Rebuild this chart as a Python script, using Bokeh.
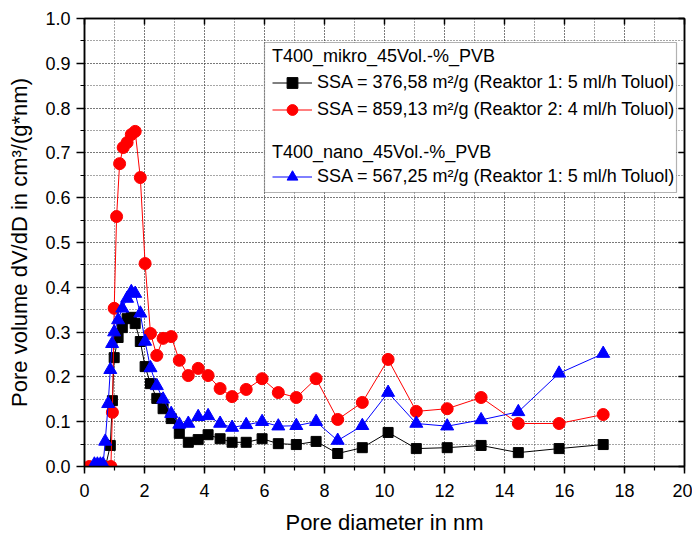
from bokeh.plotting import figure
from bokeh.models import (Range1d, LinearAxis, Legend, LegendItem, BoxAnnotation,
                          SingleIntervalTicker, CustomJSTickFormatter, PrintfTickFormatter)
from bokeh.embed import file_html
from bokeh.resources import INLINE

# ---- data ----
black_x = [0.3, 0.5, 0.7, 0.86, 0.93, 0.99, 1.12, 1.26, 1.42, 1.56, 1.69, 1.86, 2.02,
           2.2, 2.41, 2.62, 2.89, 3.16, 3.46, 3.79, 4.12, 4.52, 4.92, 5.39, 5.92, 6.46,
           7.06, 7.72, 8.44, 9.26, 10.12, 11.06, 12.09, 13.22, 14.46, 15.82, 17.29]
black_y = [0.0, 0.0, 0.0, 0.047, 0.147, 0.243, 0.288, 0.31, 0.33, 0.333, 0.319, 0.279, 0.223,
           0.185, 0.152, 0.129, 0.107, 0.074, 0.054, 0.06, 0.071, 0.062, 0.054, 0.054, 0.062, 0.051,
           0.049, 0.056, 0.029, 0.042, 0.076, 0.04, 0.042, 0.047, 0.031, 0.04, 0.049]

red_x = [0.16, 0.4, 0.65, 0.88, 0.93, 0.99, 1.07, 1.17, 1.29, 1.42, 1.56, 1.69, 1.86, 2.02,
         2.2, 2.41, 2.62, 2.89, 3.16, 3.46, 3.79, 4.12, 4.52, 4.92, 5.39, 5.92, 6.46,
         7.06, 7.72, 8.44, 9.26, 10.12, 11.06, 12.09, 13.22, 14.46, 15.82, 17.29]
red_y = [0.0, 0.0, 0.0, 0.0, 0.121, 0.353, 0.558, 0.676, 0.712, 0.723, 0.741, 0.748, 0.645, 0.453,
         0.297, 0.248, 0.286, 0.29, 0.237, 0.203, 0.219, 0.203, 0.174, 0.156, 0.172, 0.196, 0.165,
         0.154, 0.196, 0.105, 0.143, 0.239, 0.123, 0.129, 0.154, 0.096, 0.096, 0.116]

blue_x = [0.33, 0.43, 0.53, 0.62, 0.69, 0.79, 0.86, 0.92, 0.99, 1.12, 1.26, 1.42, 1.56, 1.69,
          1.86, 2.02, 2.2, 2.41, 2.62, 2.89, 3.16, 3.46, 3.79, 4.12, 4.52, 4.92, 5.39, 5.92,
          6.46, 7.06, 7.72, 8.44, 9.26, 10.12, 11.06, 12.09, 13.22, 14.46, 15.82, 17.29]
blue_y = [0.005, 0.005, 0.005, 0.005, 0.056, 0.14, 0.216, 0.274, 0.3, 0.327, 0.353, 0.375, 0.39, 0.386,
          0.342, 0.279, 0.22, 0.18, 0.15, 0.118, 0.094, 0.096, 0.111, 0.113, 0.096, 0.087, 0.093, 0.1,
          0.09, 0.091, 0.1, 0.058, 0.091, 0.165, 0.096, 0.09, 0.104, 0.122, 0.208, 0.252]

group1_title = "T400_mikro_45Vol.-%_PVB"
group2_title = "T400_nano_45Vol.-%_PVB"
black_label = "SSA = 376,58 m²/g (Reaktor 1: 5 ml/h Toluol)"
red_label = "SSA = 859,13 m²/g (Reaktor 2: 4 ml/h Toluol)"
blue_label = "SSA = 567,25 m²/g (Reaktor 1: 5 ml/h Toluol)"
x_title = "Pore diameter in nm"
y_title = "Pore volume dV/dD in cm³/(g*nm)"

FONT = "Liberation Sans"
TICK_FS = "18px"
TITLE_FS = "22px"

p = figure(frame_width=600, frame_height=448,
           x_range=Range1d(0, 20), y_range=Range1d(0, 1),
           output_backend="svg", toolbar_location=None,
           min_border_left=84, min_border_top=18, min_border_right=8, min_border_bottom=66,
           x_axis_label=x_title, y_axis_label=y_title)
p.background_fill_color = "white"
p.border_fill_color = "white"
p.outline_line_color = "black"
p.outline_line_width = 1.5

xt = SingleIntervalTicker(interval=2, num_minor_ticks=2)
yt = SingleIntervalTicker(interval=0.1, num_minor_ticks=2)

for ax in (p.xaxis[0], p.yaxis[0]):
    ax.axis_line_width = 1.5
    ax.major_tick_line_width = 1.5
    ax.minor_tick_line_width = 1.2
    ax.major_tick_in = 0
    ax.minor_tick_in = 0
    ax.major_label_text_font = FONT
    ax.major_label_text_font_size = TICK_FS
    ax.major_label_text_color = "black"
    ax.axis_label_text_font = FONT
    ax.axis_label_text_font_size = TITLE_FS
    ax.axis_label_text_font_style = "normal"
    ax.axis_label_text_color = "black"

p.xaxis[0].ticker = xt
p.yaxis[0].ticker = yt
p.yaxis[0].formatter = PrintfTickFormatter(format="%.1f")
p.xaxis[0].major_tick_out = 7
p.xaxis[0].minor_tick_out = 4
p.xaxis[0].major_label_standoff = 10
p.xaxis[0].axis_label_standoff = 10
p.yaxis[0].major_tick_out = 8
p.yaxis[0].minor_tick_out = 4
p.yaxis[0].major_label_standoff = 6
p.yaxis[0].axis_label_standoff = 10

blank = CustomJSTickFormatter(code="return ''")
right = LinearAxis(ticker=yt, formatter=blank, major_tick_in=6, major_tick_out=0,
                   minor_tick_in=0, minor_tick_out=0, major_label_standoff=0,
                   major_label_text_font_size="1px", axis_line_width=1.5,
                   major_tick_line_width=1.5)
top = LinearAxis(ticker=xt, formatter=blank, major_tick_in=6, major_tick_out=0,
                 minor_tick_in=0, minor_tick_out=0, major_label_standoff=0,
                 major_label_text_font_size="1px", axis_line_width=1.5,
                 major_tick_line_width=1.5)
p.add_layout(right, "right")
p.add_layout(top, "above")

for g in (p.xgrid[0], p.ygrid[0]):
    g.grid_line_color = "#4d4d4d"
    g.grid_line_dash = "1 2"
    g.grid_line_width = 1
    g.minor_grid_line_color = "#4d4d4d"
    g.minor_grid_line_dash = "1 2"
    g.minor_grid_line_width = 1

# ---- data series ----
lb = p.line(black_x, black_y, line_color="black", line_width=1)
sb = p.scatter(black_x, black_y, marker="square", size=10, fill_color="black", line_color="black")
lr = p.line(red_x, red_y, line_color="#ff0000", line_width=1)
sr = p.scatter(red_x, red_y, marker="circle", size=12, fill_color="#ff0000", line_color="#ff0000")
lbl = p.line(blue_x, blue_y, line_color="#0000ff", line_width=1)
sbl = p.scatter(blue_x, blue_y, marker="triangle", size=13, fill_color="#0000ff", line_color="#0000ff")

# ---- legend box ----
box = BoxAnnotation(left=180, right=592, top=424, bottom=274,
                    left_units="screen", right_units="screen",
                    top_units="screen", bottom_units="screen",
                    fill_color="white", fill_alpha=1.0,
                    line_color="black", line_width=1.2, level="annotation")
p.add_layout(box)

def make_legend(title, items, loc, pad, standoff):
    lg = Legend(title=title, items=items, location=loc,
                border_line_alpha=0, background_fill_alpha=0,
                title_text_font=FONT, title_text_font_size=TICK_FS, title_text_font_style="normal",
                title_text_color="black",
                label_text_font=FONT, label_text_font_size=TICK_FS, label_text_color="black",
                glyph_width=40, glyph_height=27, label_height=27, spacing=0,
                label_standoff=5, title_standoff=standoff, padding=pad, margin=0)
    return lg

leg1 = make_legend(group1_title,
                   [LegendItem(label=black_label, renderers=[lb, sb]),
                    LegendItem(label=red_label, renderers=[lr, sr])],
                   (184, 339.5), 4, 2)
leg2 = make_legend(group2_title,
                   [LegendItem(label=blue_label, renderers=[lbl, sbl])],
                   (186, 274), 2, 0)
p.add_layout(leg1)
p.add_layout(leg2)

open("out.html", "w").write(file_html(p, INLINE))
